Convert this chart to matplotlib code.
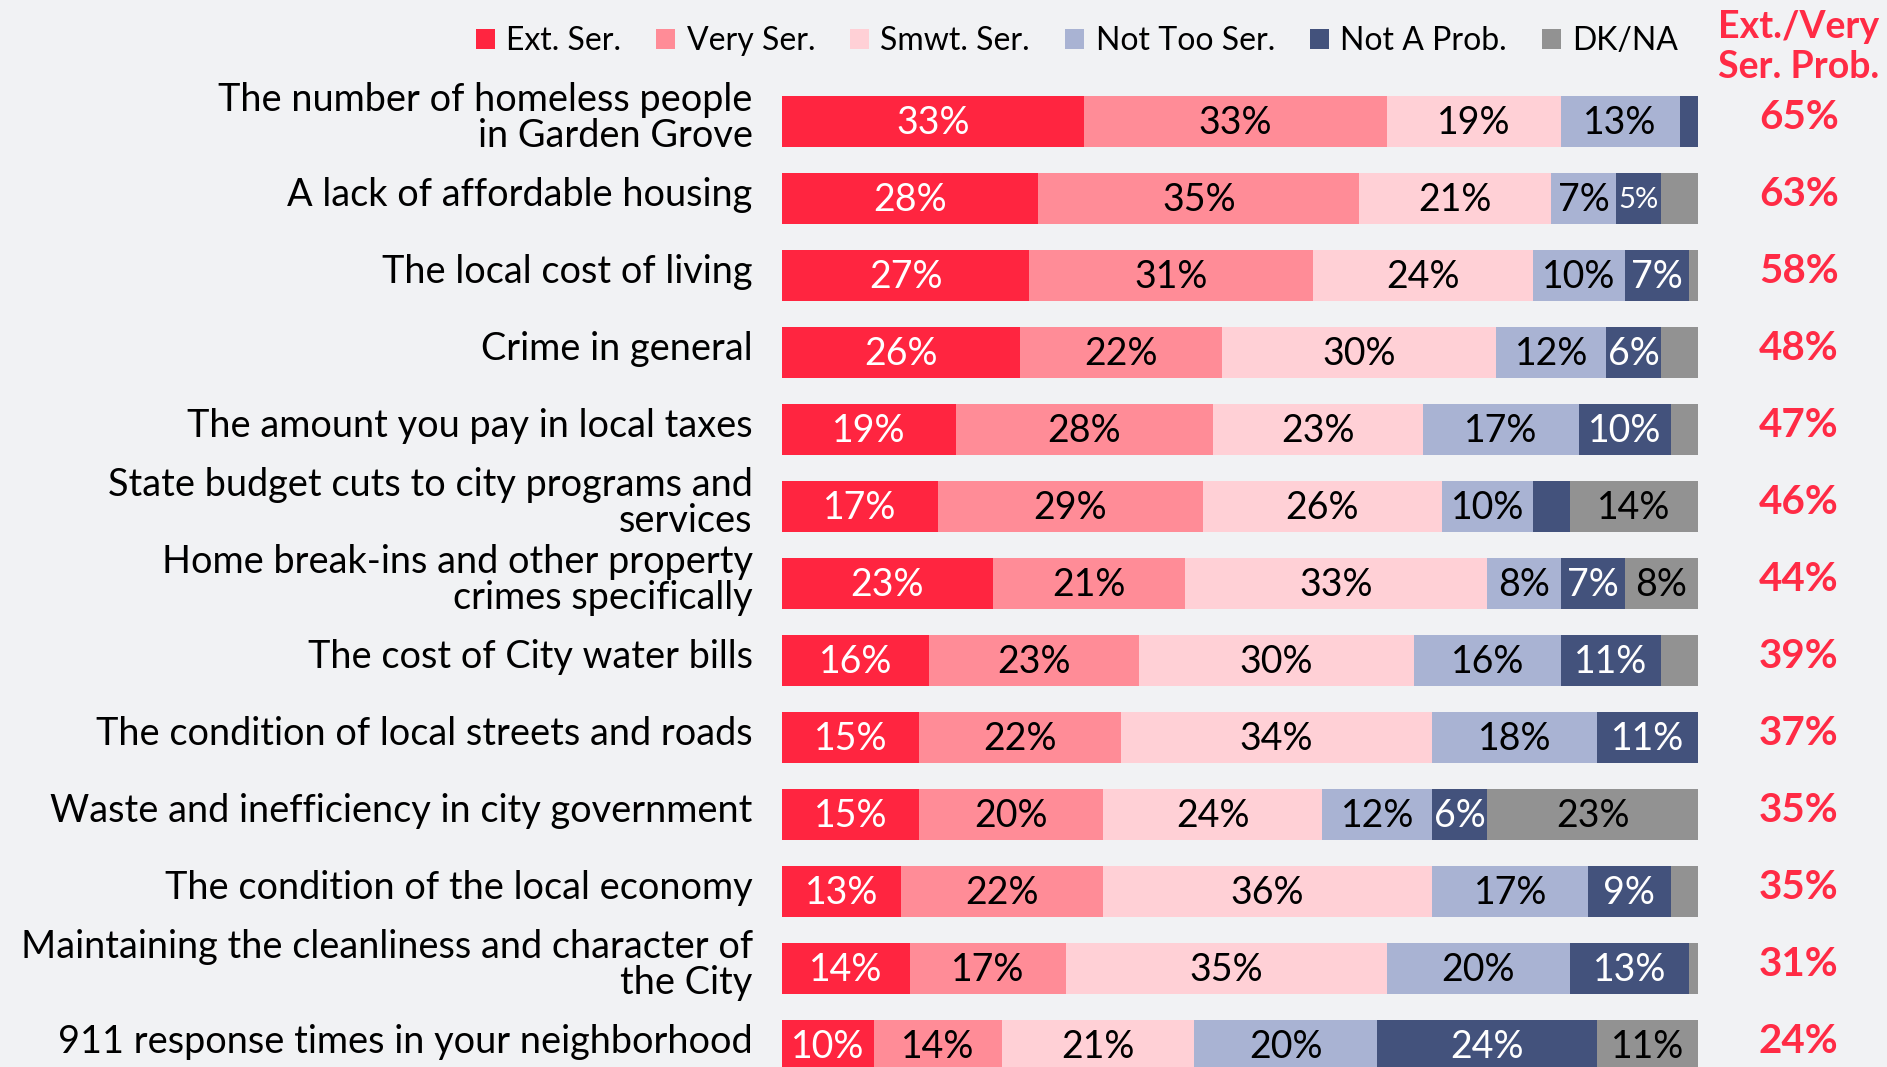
import matplotlib
matplotlib.use("Agg")
import matplotlib.pyplot as plt
import numpy as np

plt.rcParams['font.family'] = ['Lato', 'DejaVu Sans']

categories = [
    "The number of homeless people\nin Garden Grove",
    "A lack of affordable housing",
    "The local cost of living",
    "Crime in general",
    "The amount you pay in local taxes",
    "State budget cuts to city programs and\nservices",
    "Home break-ins and other property\ncrimes specifically",
    "The cost of City water bills",
    "The condition of local streets and roads",
    "Waste and inefficiency in city government",
    "The condition of the local economy",
    "Maintaining the cleanliness and character of\nthe City",
    "911 response times in your neighborhood",
]
ext_ser = [33, 28, 27, 26, 19, 17, 23, 16, 15, 15, 13, 14, 10]
very_ser = [33, 35, 31, 22, 28, 29, 21, 23, 22, 20, 22, 17, 14]
smwt_ser = [19, 21, 24, 30, 23, 26, 33, 30, 34, 24, 36, 35, 21]
not_too = [13, 7, 10, 12, 17, 10, 8, 16, 18, 12, 17, 20, 20]
not_prob = [2, 5, 7, 6, 10, 4, 7, 11, 11, 6, 9, 13, 24]
dk_na = [0, 4, 1, 4, 3, 14, 8, 4, 0, 23, 3, 1, 11]
ext_very = [65, 63, 58, 48, 47, 46, 44, 39, 37, 35, 35, 31, 24]

series = [
    ("Ext. Ser.", ext_ser, "#FF2540", "white"),
    ("Very Ser.", very_ser, "#FF8C97", "black"),
    ("Smwt. Ser.", smwt_ser, "#FFD0D6", "black"),
    ("Not Too Ser.", not_too, "#A9B3D3", "black"),
    ("Not A Prob.", not_prob, "#43527C", "white"),
    ("DK/NA", dk_na, "#929292", "black"),
]

bg = "#F1F2F4"
fig = plt.figure(figsize=(18.87, 10.67), dpi=100, facecolor=bg)
W, H = 1887, 1067
left_px, bar_px = 782, 916
ax = fig.add_axes([left_px / W, 0, (W - left_px) / W, 1])
ax.set_facecolor(bg)
xmax = 100 * (W - left_px) / bar_px
ax.set_xlim(0, xmax)
y0, dy = 121.5, 77.0
ax.set_ylim((H - y0) / dy, -y0 / dy)
ax.axis("off")

y = np.arange(len(categories))
left = np.zeros(len(categories))
handles = []
for name, vals, color, tcol in series:
    vals = np.array(vals, dtype=float)
    bars = ax.barh(y, vals, left=left, height=0.67, color=color, label=name, linewidth=0)
    handles.append(bars)
    for i, v in enumerate(vals):
        if v >= 5:
            ax.text(left[i] + v / 2, y[i] + 0.02, f"{int(v)}%", ha="center", va="center",
                    color=tcol, fontsize=21 if v == 5 else 27)
    left += vals

for i, cat in enumerate(categories):
    ax.text(-3.2, y[i] - 0.05, cat, ha="right", va="center", fontsize=27.3,
            linespacing=1.0, color="black")
    ax.text(111, y[i] - 0.05, f"{ext_very[i]}%", ha="center", va="center",
            fontsize=29, fontweight="bold", color="#FF2B45")

fig.text(1799 / W, 1 - 47 / H, "Ext./Very\nSer. Prob.", ha="center", va="center",
         fontsize=27, fontweight="bold", color="#FF2B45", linespacing=1.2)

ax.legend(handles=handles, ncol=6, loc="center", bbox_to_anchor=(1077 / W, 1 - 41 / H),
          bbox_transform=fig.transFigure, frameon=False, fontsize=23,
          handlelength=0.6, handleheight=0.6, handletextpad=0.35, columnspacing=1.1)

fig.savefig("out.png", dpi=100, facecolor=bg)
